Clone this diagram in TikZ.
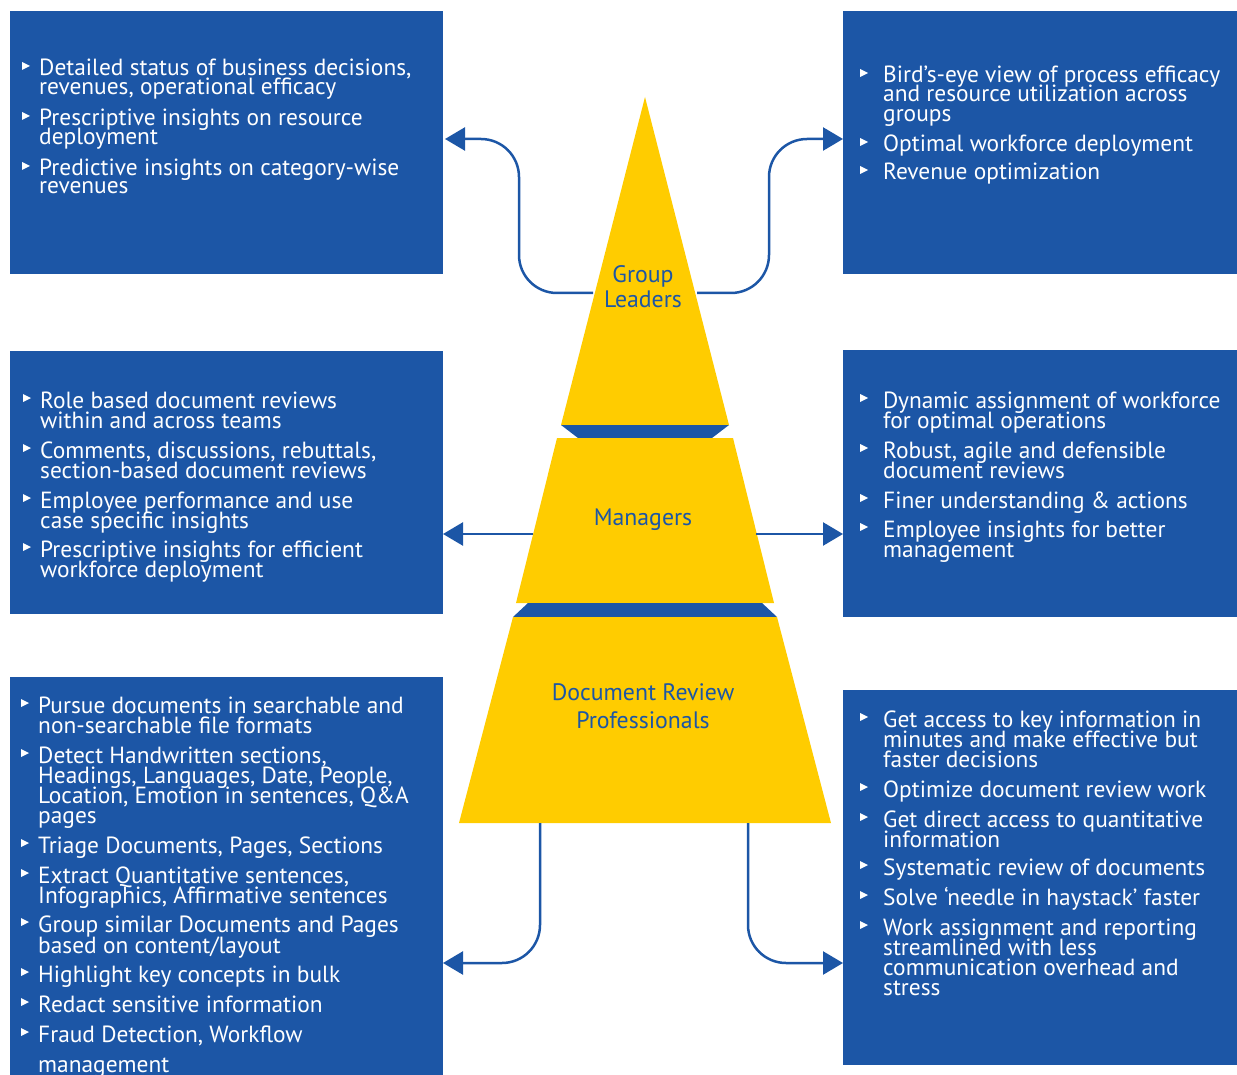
\documentclass[tikz,border=0pt]{standalone}
\usepackage{fontspec}
\setmainfont{PT Sans}
\usetikzlibrary{arrows.meta}
\definecolor{bblue}{RGB}{28,86,166}
\definecolor{pyel}{RGB}{255,204,0}
\tikzset{
  box/.style={fill=bblue, inner sep=0pt, minimum width=#1},
  itemtext/.style={anchor=base west, inner sep=0pt, text=white, font=\fontsize{23.4}{20}\selectfont},
  pyrlabel/.style={anchor=base, inner sep=0pt, text=bblue, font=\fontsize{23.8}{20}\selectfont},
  conn/.style={draw=bblue, line width=2.5pt, rounded corners=38pt, -{Triangle[length=20pt,width=23pt]}},
}
\newcommand\bulletlist[4]{% #1 prefix, #2 bullet x, #3 text x, #4 list
  \foreach \b/\m/\t [count=\i] in {#4} {
    \node[itemtext] (#1-\i) at (#3,\b) {\t};
    \ifnum\m=1 \fill[white] (#2,\b-14) -- ++(8,4) -- ++(-8,4) -- cycle; \fi
  }}
\begin{document}
\begin{tikzpicture}[x=1pt,y=-1pt]
\useasboundingbox (0,0) rectangle (1237,1075);
% boxes
\node[box=433pt, minimum height=263pt] (btl) at (226.5,142.5) {};
\node[box=394pt, minimum height=263pt] (btr) at (1040,142.5) {};
\node[box=433pt, minimum height=263pt] (bml) at (226.5,482.5) {};
\node[box=394pt, minimum height=267pt] (bmr) at (1040,483.5) {};
\node[box=433pt, minimum height=398pt] (bbl) at (226.5,876) {};
\node[box=394pt, minimum height=375pt] (bbr) at (1040,877.5) {};
% pyramid
\fill[pyel] (645,97) -- (729,425) -- (561,425) -- cycle;
\fill[bblue] (561,425) -- (729,425) -- (712,438) -- (578,438) -- cycle;
\fill[pyel] (557,438) -- (733,438) -- (774,603) -- (516,603) -- cycle;
\fill[bblue] (528,603) -- (762,603) -- (777,617) -- (513,617) -- cycle;
\fill[pyel] (513,617) -- (777,617) -- (831,823) -- (459,823) -- cycle;
% pyramid labels
\node[pyrlabel] (gl1) at (643,283) {Group};
\node[pyrlabel] (gl2) at (643,308) {Leaders};
\node[pyrlabel] (mg) at (643,525) {Managers};
\node[pyrlabel] (dr1) at (643,700) {Document Review};
\node[pyrlabel] (dr2) at (643,728) {Professionals};
% connector points
\coordinate (glL) at (593,293);
\coordinate (glR) at (697,293);
\coordinate (tlT) at (445,139);
\coordinate (trT) at (843,139);
\coordinate (mgL) at (533,534);
\coordinate (mgR) at (756,534);
\coordinate (mlT) at (443,534);
\coordinate (mrT) at (843,534);
\coordinate (drL) at (540,823);
\coordinate (drR) at (748,823);
\coordinate (blT) at (443,963);
\coordinate (brT) at (843,963);
\draw[conn] (glL) -- (519,293) -- (519,139) -- (tlT);
\draw[conn] (glR) -- (769,293) -- (769,139) -- (trT);
\draw[conn] (mgL) -- (mlT);
\draw[conn] (mgR) -- (mrT);
\draw[conn] (drL) -- (540,963) -- (blT);
\draw[conn] (drR) -- (748,963) -- (brT);
% texts
\bulletlist{tl}{22}{39}{76/1/{Detailed status of business decisions,},95/0/{revenues, operational efficacy},126/1/{Prescriptive insights on resource},145/0/{deployment},176/1/{Predictive insights on category-wise},194/0/{revenues}}
\bulletlist{tr}{860}{883}{83/1/{Bird’s-eye view of process efficacy},102/0/{and resource utilization across},122/0/{groups},152/1/{Optimal workforce deployment},180/1/{Revenue optimization}}
\bulletlist{ml}{23}{40}{408/1/{Role based document reviews},428/0/{within and across teams},458/1/{Comments, discussions, rebuttals,},478/0/{section-based document reviews},508/1/{Employee performance and use},528/0/{case specific insights},557/1/{Prescriptive insights for efficient},577/0/{workforce deployment}}
\bulletlist{mr}{860}{883}{408/1/{Dynamic assignment of workforce},428/0/{for optimal operations},458/1/{Robust, agile and defensible},478/0/{document reviews},508/1/{Finer understanding \& actions},537/1/{Employee insights for better},557/0/{management}}
\bulletlist{bl}{21}{38}{713/1/{Pursue documents in searchable and},733/0/{non-searchable file formats},763/1/{Detect Handwritten sections,},783/0/{Headings, Languages, Date, People,},803/0/{Location, Emotion in sentences, Q\&A},823/0/{pages},853/1/{Triage Documents, Pages, Sections},883/1/{Extract Quantitative sentences,},903/0/{Infographics, Affirmative sentences},932/1/{Group similar Documents and Pages},953/0/{based on content/layout},982/1/{Highlight key concepts in bulk},1012/1/{Redact sensitive information},1042/1/{Fraud Detection, Workflow},1072/0/{management}}
\bulletlist{br}{860}{883}{727/1/{Get access to key information in},747/0/{minutes and make effective but},767/0/{faster decisions},797/1/{Optimize document review work},827/1/{Get direct access to quantitative},847/0/{information},875/1/{Systematic review of documents},905/1/{Solve ‘needle in haystack’ faster},935/1/{Work assignment and reporting},955/0/{streamlined with less},975/0/{communication overhead and},995/0/{stress}}
\end{tikzpicture}
\end{document}
